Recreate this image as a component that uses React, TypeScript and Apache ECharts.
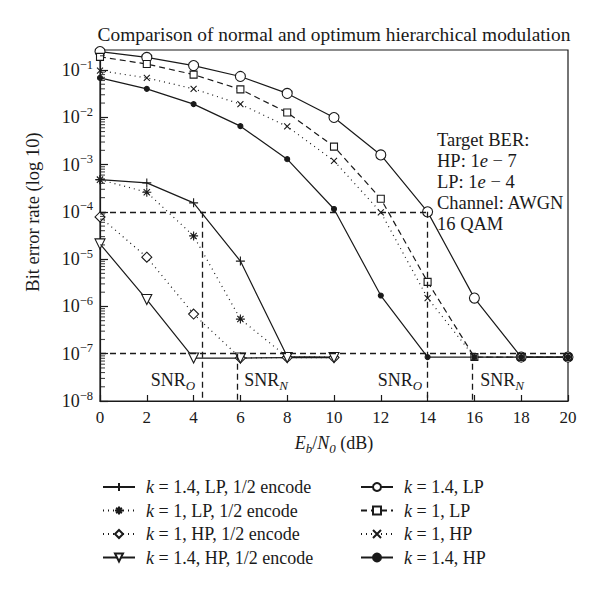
import React, { useEffect, useRef } from 'react';
import * as echarts from 'echarts';

// ---------- data ----------
const snrFull = [0, 2, 4, 6, 8, 10, 12, 14, 16, 18, 20];
const snrEncoded = [0, 2, 4, 6, 8, 10];

const berLp14Encode = [4.8e-4, 4.1e-4, 1.55e-4, 9.1e-6, 8.7e-8, 8.5e-8];
const berLp1Encode = [4.8e-4, 2.6e-4, 3.1e-5, 5.4e-7, 8.5e-8, 8.5e-8];
const berHp1Encode = [7.8e-5, 1.1e-5, 6.9e-7, 8.1e-8, 8.3e-8, 8.3e-8];
const berHp14Encode = [2.1e-5, 1.4e-6, 8.1e-8, 8.1e-8, 8.3e-8, 8.3e-8];

const berLp14 = [0.245, 0.185, 0.124, 0.073, 0.032, 0.0099, 0.0016, 1.0e-4, 1.5e-6, 8.5e-8, 8.5e-8];
const berLp1 = [0.19, 0.134, 0.08, 0.039, 0.0126, 0.0024, 1.9e-4, 3.3e-6, 8.5e-8, 8.5e-8, 8.5e-8];
const berHp1 = [0.097, 0.068, 0.04, 0.019, 0.0064, 0.0012, 9.8e-5, 1.5e-6, 8.5e-8, 8.5e-8, 8.5e-8];
const berHp14 = [0.068, 0.04, 0.019, 0.0065, 0.0013, 1.15e-4, 1.7e-6, 8.5e-8, 8.5e-8, 8.5e-8, 8.5e-8];

const seriesNames = [
  'k = 1.4, LP, 1/2 encode',
  'k = 1, LP, 1/2 encode',
  'k = 1, HP, 1/2 encode',
  'k = 1.4, HP, 1/2 encode',
  'k = 1.4, LP',
  'k = 1, LP',
  'k = 1, HP',
  'k = 1.4, HP',
];

const targetLP = 1e-4;
const targetHP = 1e-7;
const berFloor = 1e-8;
const snrOptEncoded = 4.35;
const snrNormEncoded = 5.85;
const snrOpt = 14;
const snrNorm = 15.9;

const xTicks = { min: 0, max: 20, interval: 2 };
const yRange = { min: 1e-8, max: 0.265 };
const decadeExponents = [-8, -7, -6, -5, -4, -3, -2, -1];
const minorMultipliers = [2, 3, 4, 5, 6, 7, 8, 9];

const annotationLines = ['Target BER:', 'HP: 1{i|e} − 7', 'LP: 1{i|e} − 4', 'Channel: AWGN', '16 QAM'];
const titleText = 'Comparison of normal and optimum hierarchical modulation';
const yAxisTitle = 'Bit error rate (log 10)';

// ---------- styling ----------
const FONT = '"Liberation Serif", "DejaVu Serif", serif';
const INK = '#1a1a1a';

const PLUS = 'path://M5,0L5,10M0,5L10,5';
const STAR = 'path://M5,0L5,10M0,5L10,5M1.5,1.5L8.5,8.5M1.5,8.5L8.5,1.5';
const CROSS = 'path://M0,0L10,10M0,10L10,0';

function pairs(xs: number[], ys: number[]) {
  return xs.map((x, i) => [x, ys[i]]);
}

export default function App() {
  const ref = useRef<HTMLDivElement>(null);

  useEffect(() => {
    if (!ref.current) return;
    const chart = echarts.init(ref.current, null, { renderer: 'svg' });

    const mkSeries = (
      name: string,
      xs: number[],
      ys: number[],
      lineType: any,
      symbol: string,
      symbolSize: number,
      filled: boolean,
      extra: any = {}
    ) => ({
      type: 'line',
      name,
      data: pairs(xs, ys),
      symbol,
      symbolSize,
      showSymbol: true,
      lineStyle: { color: INK, width: 1.2, type: lineType },
      itemStyle: {
        color: filled ? INK : '#fff',
        borderColor: INK,
        borderWidth: 1.1,
      },
      emphasis: { disabled: true },
      z: 3,
      ...extra,
    });

    const dashed = { color: INK, width: 1.3, type: [6, 4] };

    const richSub = {
      s: { fontFamily: FONT, fontSize: 13, fontStyle: 'italic', verticalAlign: 'bottom', lineHeight: 24, color: INK },
      n: { fontFamily: FONT, fontSize: 18, lineHeight: 24, color: INK },
    };

    const snrLabel = (x: number, y: number, sub: string) => ({
      type: 'text',
      x,
      y,
      style: {
        text: `{n|SNR}{s|${sub}}`,
        rich: richSub,
        align: 'center',
        verticalAlign: 'middle',
        fill: INK,
      },
      silent: true,
    });

    const minorTickData: number[][] = [];
    decadeExponents.forEach((e) =>
      minorMultipliers.forEach((m) => {
        const v = m * Math.pow(10, e);
        if (v < yRange.max) minorTickData.push([xTicks.min, v]);
      })
    );

    const refLines = [
      [{ coord: [xTicks.min, targetLP] }, { coord: [snrOpt, targetLP] }],
      [{ coord: [xTicks.min, targetHP] }, { coord: [xTicks.max, targetHP] }],
      [{ coord: [snrOptEncoded, targetLP] }, { coord: [snrOptEncoded, berFloor] }],
      [{ coord: [snrNormEncoded, targetHP] }, { coord: [snrNormEncoded, berFloor] }],
      [{ coord: [snrOpt, targetLP] }, { coord: [snrOpt, berFloor] }],
      [{ coord: [snrNorm, targetHP] }, { coord: [snrNorm, berFloor] }],
    ];

    const legendText = {
      fontFamily: FONT,
      fontSize: 18,
      lineHeight: 20,
      color: INK,
      rich: {
        i: { fontFamily: FONT, fontSize: 18, fontStyle: 'italic', lineHeight: 20, color: INK },
        g: { width: 6, lineHeight: 20 },
      },
    };

    const option: any = {
      animation: false,
      backgroundColor: '#fff',
      title: {
        text: titleText,
        left: 329,
        textAlign: 'center',
        top: 20,
        textStyle: { fontFamily: FONT, fontSize: 19.4, fontWeight: 'normal', color: INK },
      },
      grid: {
        left: 100,
        right: 32,
        top: 50,
        bottom: 189,
        show: true,
        borderColor: INK,
        borderWidth: 1.2,
        backgroundColor: 'transparent',
      },
      xAxis: {
        type: 'value',
        min: xTicks.min,
        max: xTicks.max,
        interval: xTicks.interval,
        name: '{i|E}{s|b}{n|/}{i|N}{s|0}{n| (dB)}',
        nameLocation: 'middle',
        nameGap: 30,
        nameTextStyle: {
          rich: {
            i: { fontFamily: FONT, fontSize: 18, fontStyle: 'italic', lineHeight: 24, color: INK },
            n: { fontFamily: FONT, fontSize: 18, lineHeight: 24, color: INK },
            s: { fontFamily: FONT, fontSize: 13, fontStyle: 'italic', verticalAlign: 'bottom', lineHeight: 24, color: INK },
          },
        },
        axisLine: { lineStyle: { color: INK, width: 1.2 } },
        axisTick: { inside: true, length: 6, lineStyle: { color: INK, width: 1.2 } },
        axisLabel: { fontFamily: FONT, fontSize: 17, color: INK, margin: 8 },
        splitLine: { show: false },
      },
      yAxis: {
        type: 'log',
        logBase: 10,
        min: yRange.min,
        max: yRange.max,
        axisLine: { lineStyle: { color: INK, width: 1.2 } },
        axisTick: { inside: true, length: 8, lineStyle: { color: INK, width: 1.2 } },
        minorTick: { show: false },
        axisLabel: {
          margin: 7,
          showMaxLabel: false,
          formatter: (v: number) => {
            const e = Math.log10(v);
            if (Math.abs(e - Math.round(e)) > 1e-6) return '';
            return `{n|10}{p|−${Math.abs(Math.round(e))}}`;
          },
          rich: {
            n: { fontFamily: FONT, fontSize: 18, color: INK, lineHeight: 24 },
            p: { fontFamily: FONT, fontSize: 12.5, color: INK, verticalAlign: 'top', lineHeight: 24 },
          },
        },
        splitLine: { show: false },
        minorSplitLine: { show: false },
      },
      legend: [
        {
          data: seriesNames.slice(0, 4),
          orient: 'vertical',
          left: 97,
          top: 472,
          itemWidth: 32,
          itemHeight: 10,
          itemGap: 3.5,
          formatter: (n: string) => `{g|}{i|k}${n.slice(1)}`,
          textStyle: legendText,
        },
        {
          data: seriesNames.slice(4),
          orient: 'vertical',
          left: 355,
          top: 472,
          itemWidth: 32,
          itemHeight: 10,
          itemGap: 3.5,
          formatter: (n: string) => `{g|}{i|k}${n.slice(1)}`,
          textStyle: legendText,
        },
      ],
      series: [
        mkSeries(seriesNames[0], snrEncoded, berLp14Encode, 'solid', PLUS, 9, true, {
          markLine: {
            silent: true,
            symbol: 'none',
            label: { show: false },
            lineStyle: dashed,
            emphasis: { disabled: true },
            data: refLines,
          },
        }),
        mkSeries(seriesNames[1], snrEncoded, berLp1Encode, [1, 4], STAR, 9, true),
        mkSeries(seriesNames[2], snrEncoded, berHp1Encode, [1, 4], 'diamond', 10, false),
        mkSeries(seriesNames[3], snrEncoded, berHp14Encode, 'solid', 'triangle', 10, false, { symbolRotate: 180 }),
        mkSeries(seriesNames[4], snrFull, berLp14, 'solid', 'circle', 10, false),
        mkSeries(seriesNames[5], snrFull, berLp1, [6, 4], 'rect', 7, false),
        mkSeries(seriesNames[6], snrFull, berHp1, [1, 4], CROSS, 6, true),
        mkSeries(seriesNames[7], snrFull, berHp14, 'solid', 'circle', 5, true),
        {
          type: 'scatter',
          name: 'yMinorTicks',
          data: minorTickData,
          symbol: 'rect',
          symbolSize: [5, 1.1],
          symbolOffset: [2.5, 0],
          itemStyle: { color: INK, borderWidth: 0 },
          silent: true,
          clip: false,
          z: 4,
        },
      ],
      graphic: [
        {
          type: 'text',
          x: 437,
          y: 129,
          silent: true,
          style: {
            text: annotationLines.join('\n'),
            fontFamily: FONT,
            fontSize: 18.5,
            lineHeight: 21,
            fill: INK,
            align: 'left',
            verticalAlign: 'top',
            rich: {
              i: { fontFamily: FONT, fontSize: 18.5, fontStyle: 'italic', lineHeight: 21, fill: INK, color: INK },
            },
          },
        },
        {
          type: 'text',
          x: 33,
          y: 212,
          rotation: Math.PI / 2,
          silent: true,
          style: {
            text: yAxisTitle,
            fontFamily: FONT,
            fontSize: 18.5,
            fill: INK,
            align: 'center',
            verticalAlign: 'middle',
          },
        },
        snrLabel(173, 380, 'O'),
        snrLabel(266, 380, 'N'),
        snrLabel(400, 380, 'O'),
        snrLabel(502, 380, 'N'),
      ],
    };

    chart.setOption(option);
    return () => chart.dispose();
  }, []);

  return <div ref={ref} style={{ width: 600, height: 590, position: 'absolute', left: 0, top: 0 }} />;
}
